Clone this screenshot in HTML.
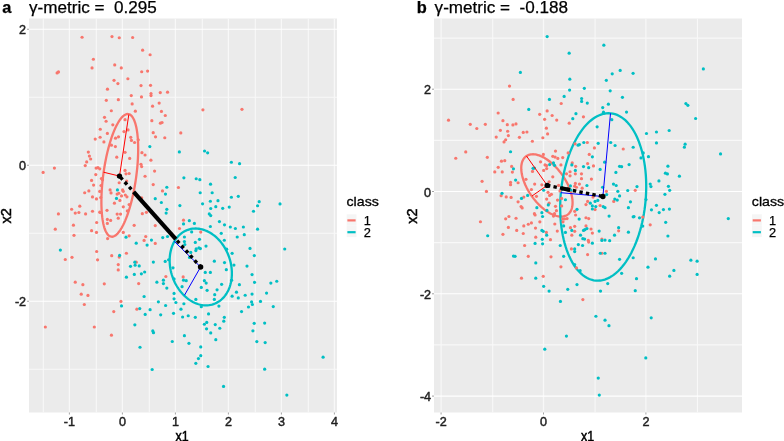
<!DOCTYPE html>
<html><head><meta charset="utf-8"><style>
html,body{margin:0;padding:0;background:#fff;}
svg{display:block;will-change:transform;}
text{font-family:"Liberation Sans", sans-serif;}
.tk{font-size:12.6px;fill:#1f1f1f;stroke:#1f1f1f;stroke-width:0.45px;}
.tt{font-size:17.1px;fill:#000;stroke:#000;stroke-width:0.25px;}
.at{font-size:14.5px;fill:#000;stroke:#000;stroke-width:0.5px;}
.lt{font-size:13.4px;fill:#000;stroke:#000;stroke-width:0.3px;}
.ll{font-size:12.8px;fill:#000;stroke:#000;stroke-width:0.25px;}
</style></head><body>
<svg width="784" height="441" viewBox="0 0 784 441">
<rect x="29.0" y="18.5" width="308.00" height="394.00" fill="#EBEBEB"/>
<line x1="43.30" y1="18.5" x2="43.30" y2="412.5" stroke="#F8F8F8" stroke-width="1.1"/>
<line x1="96.30" y1="18.5" x2="96.30" y2="412.5" stroke="#F8F8F8" stroke-width="1.1"/>
<line x1="149.30" y1="18.5" x2="149.30" y2="412.5" stroke="#F8F8F8" stroke-width="1.1"/>
<line x1="202.30" y1="18.5" x2="202.30" y2="412.5" stroke="#F8F8F8" stroke-width="1.1"/>
<line x1="255.30" y1="18.5" x2="255.30" y2="412.5" stroke="#F8F8F8" stroke-width="1.1"/>
<line x1="308.30" y1="18.5" x2="308.30" y2="412.5" stroke="#F8F8F8" stroke-width="1.1"/>
<line x1="29.0" y1="97.25" x2="337.0" y2="97.25" stroke="#F8F8F8" stroke-width="1.2"/>
<line x1="29.0" y1="233.25" x2="337.0" y2="233.25" stroke="#F8F8F8" stroke-width="1.2"/>
<line x1="29.0" y1="369.25" x2="337.0" y2="369.25" stroke="#F8F8F8" stroke-width="1.2"/>
<line x1="69.40" y1="18.5" x2="69.40" y2="412.5" stroke="#F8F8F8" stroke-width="1.2"/>
<line x1="122.40" y1="18.5" x2="122.40" y2="412.5" stroke="#F8F8F8" stroke-width="1.2"/>
<line x1="175.40" y1="18.5" x2="175.40" y2="412.5" stroke="#F8F8F8" stroke-width="1.2"/>
<line x1="228.40" y1="18.5" x2="228.40" y2="412.5" stroke="#F8F8F8" stroke-width="1.2"/>
<line x1="281.40" y1="18.5" x2="281.40" y2="412.5" stroke="#F8F8F8" stroke-width="1.2"/>
<line x1="334.40" y1="18.5" x2="334.40" y2="412.5" stroke="#F8F8F8" stroke-width="1.2"/>
<line x1="29.0" y1="29.25" x2="337.0" y2="29.25" stroke="#fff" stroke-width="1.1"/>
<line x1="29.0" y1="165.25" x2="337.0" y2="165.25" stroke="#fff" stroke-width="1.1"/>
<line x1="29.0" y1="301.25" x2="337.0" y2="301.25" stroke="#fff" stroke-width="1.1"/>
<rect x="434.0" y="18.5" width="308.00" height="394.00" fill="#EBEBEB"/>
<line x1="492.70" y1="18.5" x2="492.70" y2="412.5" stroke="#F8F8F8" stroke-width="1.1"/>
<line x1="595.10" y1="18.5" x2="595.10" y2="412.5" stroke="#F8F8F8" stroke-width="1.1"/>
<line x1="697.50" y1="18.5" x2="697.50" y2="412.5" stroke="#F8F8F8" stroke-width="1.1"/>
<line x1="434.0" y1="38.05" x2="742.0" y2="38.05" stroke="#F8F8F8" stroke-width="1.2"/>
<line x1="434.0" y1="140.35" x2="742.0" y2="140.35" stroke="#F8F8F8" stroke-width="1.2"/>
<line x1="434.0" y1="242.65" x2="742.0" y2="242.65" stroke="#F8F8F8" stroke-width="1.2"/>
<line x1="434.0" y1="344.95" x2="742.0" y2="344.95" stroke="#F8F8F8" stroke-width="1.2"/>
<line x1="441.10" y1="18.5" x2="441.10" y2="412.5" stroke="#F8F8F8" stroke-width="1.2"/>
<line x1="543.50" y1="18.5" x2="543.50" y2="412.5" stroke="#F8F8F8" stroke-width="1.2"/>
<line x1="645.90" y1="18.5" x2="645.90" y2="412.5" stroke="#F8F8F8" stroke-width="1.2"/>
<line x1="434.0" y1="89.20" x2="742.0" y2="89.20" stroke="#fff" stroke-width="1.1"/>
<line x1="434.0" y1="191.50" x2="742.0" y2="191.50" stroke="#fff" stroke-width="1.1"/>
<line x1="434.0" y1="293.80" x2="742.0" y2="293.80" stroke="#fff" stroke-width="1.1"/>
<line x1="434.0" y1="396.10" x2="742.0" y2="396.10" stroke="#fff" stroke-width="1.1"/>
<line x1="69.40" y1="412.5" x2="69.40" y2="414.50" stroke="#999" stroke-width="0.9"/>
<text x="69.40" y="425.70" text-anchor="middle" class="tk">-1</text>
<line x1="122.40" y1="412.5" x2="122.40" y2="414.50" stroke="#999" stroke-width="0.9"/>
<text x="122.40" y="425.70" text-anchor="middle" class="tk">0</text>
<line x1="175.40" y1="412.5" x2="175.40" y2="414.50" stroke="#999" stroke-width="0.9"/>
<text x="175.40" y="425.70" text-anchor="middle" class="tk">1</text>
<line x1="228.40" y1="412.5" x2="228.40" y2="414.50" stroke="#999" stroke-width="0.9"/>
<text x="228.40" y="425.70" text-anchor="middle" class="tk">2</text>
<line x1="281.40" y1="412.5" x2="281.40" y2="414.50" stroke="#999" stroke-width="0.9"/>
<text x="281.40" y="425.70" text-anchor="middle" class="tk">3</text>
<line x1="334.40" y1="412.5" x2="334.40" y2="414.50" stroke="#999" stroke-width="0.9"/>
<text x="334.40" y="425.70" text-anchor="middle" class="tk">4</text>
<line x1="27.00" y1="29.25" x2="29.0" y2="29.25" stroke="#999" stroke-width="0.9"/>
<text x="26.10" y="34.35" text-anchor="end" class="tk">2</text>
<line x1="27.00" y1="165.25" x2="29.0" y2="165.25" stroke="#999" stroke-width="0.9"/>
<text x="26.10" y="170.35" text-anchor="end" class="tk">0</text>
<line x1="27.00" y1="301.25" x2="29.0" y2="301.25" stroke="#999" stroke-width="0.9"/>
<text x="26.10" y="306.35" text-anchor="end" class="tk">-2</text>
<line x1="441.10" y1="412.5" x2="441.10" y2="414.50" stroke="#999" stroke-width="0.9"/>
<text x="441.10" y="425.70" text-anchor="middle" class="tk">-2</text>
<line x1="543.50" y1="412.5" x2="543.50" y2="414.50" stroke="#999" stroke-width="0.9"/>
<text x="543.50" y="425.70" text-anchor="middle" class="tk">0</text>
<line x1="645.90" y1="412.5" x2="645.90" y2="414.50" stroke="#999" stroke-width="0.9"/>
<text x="645.90" y="425.70" text-anchor="middle" class="tk">2</text>
<line x1="432.00" y1="89.20" x2="434.0" y2="89.20" stroke="#999" stroke-width="0.9"/>
<text x="431.10" y="94.30" text-anchor="end" class="tk">2</text>
<line x1="432.00" y1="191.50" x2="434.0" y2="191.50" stroke="#999" stroke-width="0.9"/>
<text x="431.10" y="196.60" text-anchor="end" class="tk">0</text>
<line x1="432.00" y1="293.80" x2="434.0" y2="293.80" stroke="#999" stroke-width="0.9"/>
<text x="431.10" y="298.90" text-anchor="end" class="tk">-2</text>
<line x1="432.00" y1="396.10" x2="434.0" y2="396.10" stroke="#999" stroke-width="0.9"/>
<text x="431.10" y="401.20" text-anchor="end" class="tk">-4</text>
<path d="M128.31,114.05 L127.45,114.02 L126.56,114.15 L125.66,114.45 L124.73,114.92 L123.80,115.55 L122.86,116.35 L121.90,117.31 L120.94,118.43 L119.98,119.70 L119.02,121.13 L118.06,122.71 L117.10,124.43 L116.15,126.29 L115.21,128.28 L114.29,130.41 L113.38,132.66 L112.48,135.02 L111.61,137.49 L110.76,140.07 L109.93,142.75 L109.13,145.51 L108.36,148.36 L107.63,151.28 L106.92,154.27 L106.25,157.31 L105.62,160.41 L105.02,163.54 L104.47,166.71 L103.96,169.90 L103.49,173.11 L103.07,176.32 L102.69,179.53 L102.36,182.73 L102.07,185.91 L101.84,189.06 L101.65,192.17 L101.52,195.24 L101.43,198.25 L101.40,201.20 L101.41,204.08 L101.48,206.88 L101.60,209.59 L101.76,212.21 L101.98,214.73 L102.24,217.14 L102.55,219.44 L102.91,221.61 L103.32,223.66 L103.77,225.58 L104.26,227.36 L104.80,228.99 L105.38,230.48 L105.99,231.82 L106.65,233.01 L107.34,234.03 L108.07,234.90 L108.83,235.60 L109.61,236.14 L110.43,236.51 L111.27,236.71 L112.13,236.74 L113.02,236.61 L113.92,236.31 L114.85,235.84 L115.78,235.21 L116.72,234.41 L117.68,233.45 L118.64,232.33 L119.60,231.06 L120.56,229.63 L121.52,228.05 L122.48,226.33 L123.43,224.47 L124.37,222.48 L125.29,220.35 L126.20,218.10 L127.10,215.74 L127.97,213.27 L128.82,210.69 L129.65,208.01 L130.45,205.25 L131.22,202.40 L131.95,199.48 L132.66,196.49 L133.33,193.45 L133.96,190.35 L134.56,187.22 L135.11,184.05 L135.62,180.86 L136.09,177.65 L136.51,174.44 L136.89,171.23 L137.22,168.03 L137.51,164.85 L137.74,161.70 L137.93,158.59 L138.06,155.52 L138.15,152.51 L138.18,149.56 L138.17,146.68 L138.10,143.88 L137.98,141.17 L137.82,138.55 L137.60,136.03 L137.34,133.62 L137.03,131.32 L136.67,129.15 L136.26,127.10 L135.81,125.18 L135.32,123.40 L134.78,121.77 L134.20,120.28 L133.59,118.94 L132.93,117.75 L132.24,116.73 L131.51,115.86 L130.75,115.16 L129.97,114.62 L129.15,114.25 L128.31,114.05Z" fill="none" stroke="#F8766D" stroke-width="2.3"/>
<path d="M187.93,229.79 L186.46,230.35 L185.04,231.02 L183.65,231.78 L182.32,232.64 L181.03,233.59 L179.80,234.63 L178.63,235.77 L177.51,236.98 L176.46,238.28 L175.48,239.66 L174.57,241.12 L173.72,242.64 L172.96,244.23 L172.26,245.89 L171.65,247.60 L171.12,249.36 L170.67,251.17 L170.30,253.03 L170.01,254.92 L169.81,256.85 L169.69,258.80 L169.66,260.78 L169.71,262.77 L169.85,264.78 L170.07,266.79 L170.38,268.80 L170.77,270.81 L171.24,272.80 L171.80,274.78 L172.43,276.74 L173.14,278.67 L173.93,280.57 L174.79,282.43 L175.72,284.25 L176.72,286.02 L177.78,287.74 L178.91,289.41 L180.10,291.01 L181.35,292.54 L182.65,294.01 L184.00,295.40 L185.39,296.71 L186.83,297.94 L188.30,299.09 L189.81,300.15 L191.35,301.12 L192.91,301.99 L194.50,302.77 L196.10,303.45 L197.72,304.03 L199.34,304.50 L200.97,304.88 L202.60,305.15 L204.22,305.32 L205.84,305.38 L207.44,305.33 L209.02,305.18 L210.58,304.93 L212.11,304.57 L213.61,304.11 L215.08,303.55 L216.50,302.88 L217.89,302.12 L219.22,301.26 L220.51,300.31 L221.74,299.27 L222.91,298.13 L224.03,296.92 L225.08,295.62 L226.06,294.24 L226.97,292.78 L227.82,291.26 L228.58,289.67 L229.28,288.01 L229.89,286.30 L230.42,284.54 L230.87,282.73 L231.24,280.87 L231.53,278.98 L231.73,277.05 L231.85,275.10 L231.88,273.12 L231.83,271.13 L231.69,269.12 L231.47,267.11 L231.16,265.10 L230.77,263.09 L230.30,261.10 L229.74,259.12 L229.11,257.16 L228.40,255.23 L227.61,253.33 L226.75,251.47 L225.82,249.65 L224.82,247.88 L223.76,246.16 L222.63,244.49 L221.44,242.89 L220.19,241.36 L218.89,239.89 L217.54,238.50 L216.15,237.19 L214.71,235.96 L213.24,234.81 L211.73,233.75 L210.19,232.78 L208.63,231.91 L207.04,231.13 L205.44,230.45 L203.82,229.87 L202.20,229.40 L200.57,229.02 L198.94,228.75 L197.32,228.58 L195.70,228.52 L194.10,228.57 L192.52,228.72 L190.96,228.97 L189.43,229.33 L187.93,229.79Z" fill="none" stroke="#00BFC4" stroke-width="2.3"/>
<path d="M531.76,196.13 L530.70,194.58 L529.68,193.01 L528.71,191.42 L527.79,189.82 L526.92,188.20 L526.10,186.57 L525.34,184.94 L524.65,183.31 L524.01,181.69 L523.43,180.07 L522.92,178.47 L522.48,176.89 L522.10,175.34 L521.79,173.81 L521.55,172.31 L521.38,170.85 L521.28,169.43 L521.25,168.05 L521.29,166.72 L521.40,165.44 L521.58,164.22 L521.83,163.05 L522.15,161.95 L522.53,160.91 L522.98,159.93 L523.50,159.03 L524.08,158.20 L524.73,157.44 L525.44,156.76 L526.20,156.16 L527.02,155.64 L527.90,155.20 L528.82,154.84 L529.80,154.57 L530.83,154.38 L531.90,154.28 L533.00,154.26 L534.15,154.32 L535.34,154.48 L536.55,154.71 L537.79,155.03 L539.06,155.44 L540.35,155.92 L541.66,156.49 L542.98,157.14 L544.31,157.86 L545.65,158.66 L546.99,159.53 L548.34,160.48 L549.68,161.49 L551.01,162.56 L552.33,163.70 L553.63,164.90 L554.92,166.16 L556.18,167.47 L557.42,168.83 L558.63,170.23 L559.81,171.67 L560.96,173.15 L562.06,174.67 L563.12,176.22 L564.14,177.79 L565.11,179.38 L566.03,180.98 L566.90,182.60 L567.72,184.23 L568.48,185.86 L569.17,187.49 L569.81,189.11 L570.39,190.73 L570.90,192.33 L571.34,193.91 L571.72,195.46 L572.03,196.99 L572.27,198.49 L572.44,199.95 L572.54,201.37 L572.57,202.75 L572.53,204.08 L572.42,205.36 L572.24,206.58 L571.99,207.75 L571.67,208.85 L571.29,209.89 L570.84,210.87 L570.32,211.77 L569.74,212.60 L569.09,213.36 L568.38,214.04 L567.62,214.64 L566.80,215.16 L565.92,215.60 L565.00,215.96 L564.02,216.23 L562.99,216.42 L561.92,216.52 L560.82,216.54 L559.67,216.48 L558.48,216.32 L557.27,216.09 L556.03,215.77 L554.76,215.36 L553.47,214.88 L552.16,214.31 L550.84,213.66 L549.51,212.94 L548.17,212.14 L546.83,211.27 L545.48,210.32 L544.14,209.31 L542.81,208.24 L541.49,207.10 L540.19,205.90 L538.90,204.64 L537.64,203.33 L536.40,201.97 L535.19,200.57 L534.01,199.13 L532.86,197.65 L531.76,196.13Z" fill="none" stroke="#F8766D" stroke-width="2.3"/>
<path d="M610.58,113.32 L608.35,113.24 L606.11,113.39 L603.86,113.76 L601.61,114.37 L599.36,115.20 L597.12,116.26 L594.90,117.53 L592.70,119.03 L590.54,120.74 L588.40,122.65 L586.31,124.78 L584.26,127.09 L582.26,129.60 L580.33,132.30 L578.45,135.17 L576.64,138.21 L574.91,141.41 L573.25,144.77 L571.68,148.27 L570.19,151.90 L568.79,155.65 L567.49,159.52 L566.28,163.49 L565.17,167.55 L564.17,171.69 L563.28,175.90 L562.50,180.17 L561.82,184.49 L561.26,188.84 L560.82,193.21 L560.49,197.59 L560.28,201.97 L560.19,206.34 L560.21,210.68 L560.35,214.98 L560.61,219.24 L560.99,223.43 L561.48,227.55 L562.09,231.58 L562.81,235.53 L563.64,239.36 L564.58,243.08 L565.62,246.67 L566.77,250.13 L568.01,253.44 L569.36,256.60 L570.79,259.59 L572.32,262.41 L573.93,265.05 L575.62,267.51 L577.38,269.77 L579.22,271.83 L581.12,273.69 L583.09,275.33 L585.10,276.76 L587.17,277.97 L589.28,278.97 L591.43,279.73 L593.61,280.27 L595.82,280.58 L598.05,280.66 L600.29,280.51 L602.54,280.14 L604.79,279.53 L607.04,278.70 L609.28,277.64 L611.50,276.37 L613.70,274.87 L615.86,273.16 L618.00,271.25 L620.09,269.12 L622.14,266.81 L624.14,264.30 L626.07,261.60 L627.95,258.73 L629.76,255.69 L631.49,252.49 L633.15,249.13 L634.72,245.63 L636.21,242.00 L637.61,238.25 L638.91,234.38 L640.12,230.41 L641.23,226.35 L642.23,222.21 L643.12,218.00 L643.90,213.73 L644.58,209.41 L645.14,205.06 L645.58,200.69 L645.91,196.31 L646.12,191.93 L646.21,187.56 L646.19,183.22 L646.05,178.92 L645.79,174.66 L645.41,170.47 L644.92,166.35 L644.31,162.32 L643.59,158.37 L642.76,154.54 L641.82,150.82 L640.78,147.23 L639.63,143.77 L638.39,140.46 L637.04,137.30 L635.61,134.31 L634.08,131.49 L632.47,128.85 L630.78,126.39 L629.02,124.13 L627.18,122.07 L625.28,120.21 L623.31,118.57 L621.30,117.14 L619.23,115.93 L617.12,114.93 L614.97,114.17 L612.79,113.63 L610.58,113.32Z" fill="none" stroke="#00BFC4" stroke-width="2.3"/>
<g fill="#F8766D"><circle cx="82.06" cy="37.27" r="1.6"/><circle cx="111.99" cy="36.59" r="1.6"/><circle cx="119.25" cy="37.73" r="1.6"/><circle cx="93.4" cy="59.27" r="1.6"/><circle cx="114.71" cy="64.94" r="1.6"/><circle cx="121.29" cy="67.89" r="1.6"/><circle cx="92.04" cy="67.89" r="1.6"/><circle cx="57.12" cy="72.88" r="1.6"/><circle cx="58.48" cy="71.97" r="1.6"/><circle cx="127.87" cy="78.77" r="1.6"/><circle cx="114.03" cy="80.36" r="1.6"/><circle cx="117.89" cy="83.53" r="1.6"/><circle cx="107.46" cy="89.2" r="1.6"/><circle cx="106.32" cy="100.31" r="1.6"/><circle cx="118.34" cy="99.63" r="1.6"/><circle cx="111.31" cy="110.74" r="1.6"/><circle cx="104.51" cy="117.32" r="1.6"/><circle cx="132.63" cy="37.5" r="1.6"/><circle cx="142.61" cy="50.2" r="1.6"/><circle cx="150.09" cy="54.73" r="1.6"/><circle cx="141.7" cy="71.74" r="1.6"/><circle cx="147.59" cy="71.06" r="1.6"/><circle cx="141.02" cy="85.57" r="1.6"/><circle cx="150.54" cy="85.35" r="1.6"/><circle cx="131.27" cy="95.55" r="1.6"/><circle cx="141.47" cy="96.91" r="1.6"/><circle cx="151.0" cy="93.51" r="1.6"/><circle cx="151.0" cy="95.55" r="1.6"/><circle cx="160.29" cy="92.6" r="1.6"/><circle cx="167.55" cy="92.15" r="1.6"/><circle cx="132.17" cy="103.94" r="1.6"/><circle cx="159.16" cy="103.03" r="1.6"/><circle cx="152.58" cy="106.21" r="1.6"/><circle cx="135.35" cy="111.2" r="1.6"/><circle cx="161.43" cy="111.42" r="1.6"/><circle cx="165.28" cy="115.51" r="1.6"/><circle cx="202.92" cy="109.84" r="1.6"/><circle cx="241.97" cy="109.29" r="1.6"/><circle cx="106.1" cy="121.27" r="1.6"/><circle cx="100.29" cy="129.25" r="1.6"/><circle cx="107.37" cy="133.42" r="1.6"/><circle cx="100.11" cy="137.23" r="1.6"/><circle cx="95.21" cy="139.04" r="1.6"/><circle cx="103.92" cy="141.95" r="1.6"/><circle cx="88.32" cy="152.1" r="1.6"/><circle cx="89.41" cy="156.1" r="1.6"/><circle cx="90.68" cy="159.0" r="1.6"/><circle cx="86.69" cy="161.9" r="1.6"/><circle cx="85.24" cy="165.53" r="1.6"/><circle cx="54.4" cy="168.07" r="1.6"/><circle cx="43.15" cy="172.42" r="1.6"/><circle cx="96.12" cy="168.07" r="1.6"/><circle cx="97.93" cy="167.71" r="1.6"/><circle cx="99.75" cy="168.79" r="1.6"/><circle cx="95.76" cy="174.6" r="1.6"/><circle cx="102.47" cy="179.68" r="1.6"/><circle cx="91.59" cy="180.4" r="1.6"/><circle cx="93.58" cy="185.12" r="1.6"/><circle cx="84.69" cy="192.74" r="1.6"/><circle cx="88.86" cy="190.93" r="1.6"/><circle cx="92.49" cy="196.91" r="1.6"/><circle cx="99.75" cy="191.47" r="1.6"/><circle cx="125.05" cy="119.63" r="1.6"/><circle cx="151.86" cy="120.72" r="1.6"/><circle cx="160.43" cy="123.17" r="1.6"/><circle cx="162.06" cy="122.49" r="1.6"/><circle cx="112.81" cy="124.8" r="1.6"/><circle cx="123.97" cy="131.61" r="1.6"/><circle cx="128.05" cy="129.97" r="1.6"/><circle cx="153.22" cy="132.69" r="1.6"/><circle cx="155.53" cy="136.78" r="1.6"/><circle cx="164.78" cy="137.73" r="1.6"/><circle cx="115.53" cy="138.14" r="1.6"/><circle cx="118.52" cy="136.78" r="1.6"/><circle cx="130.77" cy="137.32" r="1.6"/><circle cx="131.45" cy="140.45" r="1.6"/><circle cx="134.58" cy="142.49" r="1.6"/><circle cx="138.25" cy="139.77" r="1.6"/><circle cx="111.45" cy="145.21" r="1.6"/><circle cx="115.39" cy="146.57" r="1.6"/><circle cx="125.05" cy="152.29" r="1.6"/><circle cx="141.93" cy="152.69" r="1.6"/><circle cx="145.05" cy="155.01" r="1.6"/><circle cx="116.76" cy="157.18" r="1.6"/><circle cx="129.68" cy="158.41" r="1.6"/><circle cx="150.9" cy="160.18" r="1.6"/><circle cx="140.97" cy="164.26" r="1.6"/><circle cx="141.65" cy="166.57" r="1.6"/><circle cx="125.05" cy="170.38" r="1.6"/><circle cx="126.01" cy="173.78" r="1.6"/><circle cx="129.14" cy="173.51" r="1.6"/><circle cx="154.58" cy="171.06" r="1.6"/><circle cx="145.05" cy="176.23" r="1.6"/><circle cx="180.79" cy="132.88" r="1.6"/><circle cx="178.43" cy="187.48" r="1.6"/><circle cx="119.2" cy="182.76" r="1.6"/><circle cx="126.69" cy="180.99" r="1.6"/><circle cx="110.09" cy="189.97" r="1.6"/><circle cx="111.04" cy="192.97" r="1.6"/><circle cx="122.61" cy="189.97" r="1.6"/><circle cx="123.29" cy="191.33" r="1.6"/><circle cx="117.16" cy="194.05" r="1.6"/><circle cx="118.8" cy="193.24" r="1.6"/><circle cx="121.52" cy="195.96" r="1.6"/><circle cx="125.33" cy="195.01" r="1.6"/><circle cx="126.96" cy="196.78" r="1.6"/><circle cx="119.88" cy="200.45" r="1.6"/><circle cx="114.44" cy="203.17" r="1.6"/><circle cx="123.29" cy="206.84" r="1.6"/><circle cx="129.14" cy="204.53" r="1.6"/><circle cx="127.37" cy="210.93" r="1.6"/><circle cx="117.16" cy="214.05" r="1.6"/><circle cx="120.56" cy="214.05" r="1.6"/><circle cx="118.25" cy="218.14" r="1.6"/><circle cx="110.63" cy="220.45" r="1.6"/><circle cx="134.17" cy="225.35" r="1.6"/><circle cx="123.29" cy="232.42" r="1.6"/><circle cx="129.14" cy="235.82" r="1.6"/><circle cx="141.65" cy="197.73" r="1.6"/><circle cx="142.33" cy="213.65" r="1.6"/><circle cx="146.41" cy="212.29" r="1.6"/><circle cx="153.22" cy="184.53" r="1.6"/><circle cx="162.47" cy="190.93" r="1.6"/><circle cx="155.26" cy="225.62" r="1.6"/><circle cx="145.73" cy="236.5" r="1.6"/><circle cx="96.48" cy="198.91" r="1.6"/><circle cx="79.79" cy="206.16" r="1.6"/><circle cx="71.63" cy="209.25" r="1.6"/><circle cx="58.39" cy="213.96" r="1.6"/><circle cx="75.26" cy="213.06" r="1.6"/><circle cx="78.89" cy="212.51" r="1.6"/><circle cx="85.6" cy="213.96" r="1.6"/><circle cx="92.49" cy="211.24" r="1.6"/><circle cx="99.75" cy="212.15" r="1.6"/><circle cx="107.0" cy="210.34" r="1.6"/><circle cx="107.37" cy="219.41" r="1.6"/><circle cx="107.37" cy="223.4" r="1.6"/><circle cx="96.66" cy="222.49" r="1.6"/><circle cx="55.3" cy="229.2" r="1.6"/><circle cx="73.44" cy="225.21" r="1.6"/><circle cx="91.59" cy="230.65" r="1.6"/><circle cx="96.48" cy="232.47" r="1.6"/><circle cx="73.99" cy="235.37" r="1.6"/><circle cx="96.66" cy="251.51" r="1.6"/><circle cx="71.99" cy="257.32" r="1.6"/><circle cx="65.28" cy="259.5" r="1.6"/><circle cx="97.57" cy="259.86" r="1.6"/><circle cx="75.26" cy="282.17" r="1.6"/><circle cx="82.88" cy="284.71" r="1.6"/><circle cx="104.28" cy="283.8" r="1.6"/><circle cx="81.24" cy="294.15" r="1.6"/><circle cx="87.96" cy="295.41" r="1.6"/><circle cx="84.33" cy="304.49" r="1.6"/><circle cx="45.33" cy="326.98" r="1.6"/><circle cx="94.31" cy="326.98" r="1.6"/><circle cx="144.1" cy="240.45" r="1.6"/><circle cx="155.26" cy="243.44" r="1.6"/><circle cx="126.41" cy="253.24" r="1.6"/><circle cx="111.72" cy="255.69" r="1.6"/><circle cx="119.2" cy="257.05" r="1.6"/><circle cx="136.21" cy="262.22" r="1.6"/><circle cx="118.25" cy="264.53" r="1.6"/><circle cx="118.25" cy="269.97" r="1.6"/><circle cx="138.66" cy="283.58" r="1.6"/><circle cx="165.87" cy="276.5" r="1.6"/><circle cx="120.97" cy="301.4" r="1.6"/><circle cx="113.76" cy="311.61" r="1.6"/><circle cx="136.89" cy="309.16" r="1.6"/><circle cx="111.45" cy="335.14" r="1.6"/><circle cx="183.51" cy="220.13" r="1.6"/><circle cx="179.52" cy="228.48" r="1.6"/><circle cx="200.75" cy="232.1" r="1.6"/><circle cx="183.15" cy="276.91" r="1.6"/><circle cx="107.6" cy="238.6" r="1.6"/><circle cx="101.4" cy="178.5" r="1.6"/><circle cx="101.0" cy="185.5" r="1.6"/><circle cx="100.7" cy="197.5" r="1.6"/><circle cx="100.6" cy="212.5" r="1.6"/></g>
<g fill="#00BFC4"><circle cx="149.82" cy="146.57" r="1.6"/><circle cx="179.34" cy="151.92" r="1.6"/><circle cx="204.56" cy="151.02" r="1.6"/><circle cx="207.64" cy="152.83" r="1.6"/><circle cx="231.4" cy="162.26" r="1.6"/><circle cx="239.57" cy="163.71" r="1.6"/><circle cx="183.88" cy="177.86" r="1.6"/><circle cx="196.21" cy="178.77" r="1.6"/><circle cx="199.84" cy="179.68" r="1.6"/><circle cx="235.21" cy="177.5" r="1.6"/><circle cx="210.54" cy="184.21" r="1.6"/><circle cx="200.2" cy="192.74" r="1.6"/><circle cx="212.17" cy="192.74" r="1.6"/><circle cx="231.4" cy="197.27" r="1.6"/><circle cx="238.3" cy="196.37" r="1.6"/><circle cx="259.2" cy="201.67" r="1.6"/><circle cx="257.57" cy="205.76" r="1.6"/><circle cx="280.02" cy="203.92" r="1.6"/><circle cx="117.44" cy="189.97" r="1.6"/><circle cx="116.48" cy="198.41" r="1.6"/><circle cx="126.01" cy="237.18" r="1.6"/><circle cx="166.82" cy="187.25" r="1.6"/><circle cx="165.46" cy="194.05" r="1.6"/><circle cx="155.26" cy="198.68" r="1.6"/><circle cx="161.38" cy="202.49" r="1.6"/><circle cx="166.82" cy="209.29" r="1.6"/><circle cx="166.14" cy="213.1" r="1.6"/><circle cx="162.74" cy="237.59" r="1.6"/><circle cx="167.5" cy="236.5" r="1.6"/><circle cx="60.38" cy="250.06" r="1.6"/><circle cx="151.45" cy="240.04" r="1.6"/><circle cx="136.21" cy="243.17" r="1.6"/><circle cx="147.1" cy="245.07" r="1.6"/><circle cx="119.61" cy="255.41" r="1.6"/><circle cx="134.85" cy="262.22" r="1.6"/><circle cx="135.12" cy="265.21" r="1.6"/><circle cx="139.2" cy="265.89" r="1.6"/><circle cx="130.5" cy="266.3" r="1.6"/><circle cx="153.35" cy="262.08" r="1.6"/><circle cx="165.19" cy="261.4" r="1.6"/><circle cx="168.59" cy="259.77" r="1.6"/><circle cx="134.31" cy="274.46" r="1.6"/><circle cx="141.38" cy="273.78" r="1.6"/><circle cx="144.65" cy="272.01" r="1.6"/><circle cx="126.41" cy="277.18" r="1.6"/><circle cx="163.42" cy="280.18" r="1.6"/><circle cx="163.42" cy="283.58" r="1.6"/><circle cx="156.89" cy="282.22" r="1.6"/><circle cx="166.82" cy="288.07" r="1.6"/><circle cx="144.1" cy="296.5" r="1.6"/><circle cx="121.52" cy="305.89" r="1.6"/><circle cx="139.75" cy="308.61" r="1.6"/><circle cx="150.09" cy="309.7" r="1.6"/><circle cx="158.39" cy="301.81" r="1.6"/><circle cx="165.6" cy="305.48" r="1.6"/><circle cx="145.19" cy="314.46" r="1.6"/><circle cx="160.7" cy="314.87" r="1.6"/><circle cx="134.85" cy="324.8" r="1.6"/><circle cx="152.81" cy="330.93" r="1.6"/><circle cx="153.49" cy="332.69" r="1.6"/><circle cx="140.02" cy="347.25" r="1.6"/><circle cx="152.16" cy="369.48" r="1.6"/><circle cx="179.88" cy="205.62" r="1.6"/><circle cx="202.56" cy="203.8" r="1.6"/><circle cx="210.36" cy="201.27" r="1.6"/><circle cx="217.98" cy="200.72" r="1.6"/><circle cx="215.8" cy="206.71" r="1.6"/><circle cx="210.72" cy="208.52" r="1.6"/><circle cx="222.7" cy="208.34" r="1.6"/><circle cx="229.23" cy="207.07" r="1.6"/><circle cx="209.27" cy="213.96" r="1.6"/><circle cx="210.72" cy="215.6" r="1.6"/><circle cx="183.51" cy="223.94" r="1.6"/><circle cx="189.32" cy="220.68" r="1.6"/><circle cx="194.4" cy="223.4" r="1.6"/><circle cx="210.36" cy="226.48" r="1.6"/><circle cx="219.43" cy="221.58" r="1.6"/><circle cx="224.51" cy="224.85" r="1.6"/><circle cx="230.32" cy="227.02" r="1.6"/><circle cx="235.39" cy="228.48" r="1.6"/><circle cx="243.38" cy="227.02" r="1.6"/><circle cx="244.28" cy="234.64" r="1.6"/><circle cx="237.21" cy="237.0" r="1.6"/><circle cx="221.24" cy="233.37" r="1.6"/><circle cx="191.68" cy="231.92" r="1.6"/><circle cx="184.42" cy="237.0" r="1.6"/><circle cx="224.33" cy="240.27" r="1.6"/><circle cx="184.42" cy="241.54" r="1.6"/><circle cx="195.3" cy="242.44" r="1.6"/><circle cx="199.48" cy="239.36" r="1.6"/><circle cx="206.01" cy="246.07" r="1.6"/><circle cx="196.21" cy="248.79" r="1.6"/><circle cx="198.93" cy="247.89" r="1.6"/><circle cx="190.77" cy="252.42" r="1.6"/><circle cx="195.85" cy="250.61" r="1.6"/><circle cx="226.69" cy="249.16" r="1.6"/><circle cx="232.13" cy="253.33" r="1.6"/><circle cx="214.35" cy="261.13" r="1.6"/><circle cx="224.51" cy="262.58" r="1.6"/><circle cx="233.94" cy="265.12" r="1.6"/><circle cx="226.32" cy="269.66" r="1.6"/><circle cx="247.0" cy="266.03" r="1.6"/><circle cx="172.99" cy="267.84" r="1.6"/><circle cx="205.28" cy="272.38" r="1.6"/><circle cx="210.36" cy="272.38" r="1.6"/><circle cx="174.08" cy="278.91" r="1.6"/><circle cx="183.51" cy="280.18" r="1.6"/><circle cx="186.23" cy="280.72" r="1.6"/><circle cx="204.37" cy="280.72" r="1.6"/><circle cx="206.19" cy="283.08" r="1.6"/><circle cx="221.61" cy="284.35" r="1.6"/><circle cx="231.59" cy="280.18" r="1.6"/><circle cx="239.39" cy="284.71" r="1.6"/><circle cx="182.06" cy="286.71" r="1.6"/><circle cx="174.08" cy="293.42" r="1.6"/><circle cx="174.08" cy="298.86" r="1.6"/><circle cx="175.89" cy="302.49" r="1.6"/><circle cx="201.29" cy="287.43" r="1.6"/><circle cx="207.1" cy="290.34" r="1.6"/><circle cx="217.07" cy="289.79" r="1.6"/><circle cx="214.71" cy="294.69" r="1.6"/><circle cx="214.35" cy="299.41" r="1.6"/><circle cx="195.85" cy="299.41" r="1.6"/><circle cx="232.13" cy="296.14" r="1.6"/><circle cx="236.48" cy="292.15" r="1.6"/><circle cx="238.3" cy="297.95" r="1.6"/><circle cx="245.19" cy="295.23" r="1.6"/><circle cx="248.46" cy="307.02" r="1.6"/><circle cx="241.56" cy="311.56" r="1.6"/><circle cx="183.88" cy="303.76" r="1.6"/><circle cx="180.97" cy="309.2" r="1.6"/><circle cx="201.29" cy="306.66" r="1.6"/><circle cx="218.89" cy="306.12" r="1.6"/><circle cx="173.54" cy="313.37" r="1.6"/><circle cx="182.61" cy="317.0" r="1.6"/><circle cx="188.23" cy="315.73" r="1.6"/><circle cx="195.3" cy="317.37" r="1.6"/><circle cx="208.55" cy="313.92" r="1.6"/><circle cx="224.33" cy="317.37" r="1.6"/><circle cx="223.78" cy="321.17" r="1.6"/><circle cx="204.37" cy="324.26" r="1.6"/><circle cx="206.73" cy="322.44" r="1.6"/><circle cx="215.26" cy="324.62" r="1.6"/><circle cx="219.79" cy="328.25" r="1.6"/><circle cx="206.55" cy="328.79" r="1.6"/><circle cx="210.72" cy="332.97" r="1.6"/><circle cx="184.42" cy="335.69" r="1.6"/><circle cx="172.27" cy="341.49" r="1.6"/><circle cx="188.95" cy="343.31" r="1.6"/><circle cx="215.8" cy="339.68" r="1.6"/><circle cx="200.75" cy="346.93" r="1.6"/><circle cx="200.75" cy="355.64" r="1.6"/><circle cx="198.45" cy="358.62" r="1.6"/><circle cx="195.83" cy="363.37" r="1.6"/><circle cx="208.06" cy="366.49" r="1.6"/><circle cx="223.54" cy="386.46" r="1.6"/><circle cx="253.49" cy="211.27" r="1.6"/><circle cx="257.57" cy="229.22" r="1.6"/><circle cx="250.02" cy="248.41" r="1.6"/><circle cx="284.71" cy="249.02" r="1.6"/><circle cx="254.31" cy="255.55" r="1.6"/><circle cx="252.06" cy="274.53" r="1.6"/><circle cx="254.51" cy="282.29" r="1.6"/><circle cx="270.84" cy="283.1" r="1.6"/><circle cx="276.76" cy="281.27" r="1.6"/><circle cx="252.06" cy="294.12" r="1.6"/><circle cx="266.55" cy="293.1" r="1.6"/><circle cx="251.61" cy="301.91" r="1.6"/><circle cx="252.39" cy="304.52" r="1.6"/><circle cx="260.48" cy="301.39" r="1.6"/><circle cx="273.26" cy="306.61" r="1.6"/><circle cx="254.22" cy="323.3" r="1.6"/><circle cx="264.65" cy="323.04" r="1.6"/><circle cx="252.91" cy="330.87" r="1.6"/><circle cx="256.83" cy="341.57" r="1.6"/><circle cx="265.17" cy="342.61" r="1.6"/><circle cx="323.09" cy="357.22" r="1.6"/><circle cx="264.65" cy="369.22" r="1.6"/><circle cx="286.83" cy="395.04" r="1.6"/><circle cx="184.8" cy="244.5" r="1.6"/><circle cx="200.4" cy="248.6" r="1.6"/><circle cx="189.5" cy="257.4" r="1.6"/></g>
<g fill="#F8766D"><circle cx="509.51" cy="86.03" r="1.6"/><circle cx="513.14" cy="99.41" r="1.6"/><circle cx="498.17" cy="113.01" r="1.6"/><circle cx="561.21" cy="103.49" r="1.6"/><circle cx="547.15" cy="110.97" r="1.6"/><circle cx="539.67" cy="114.37" r="1.6"/><circle cx="552.14" cy="115.51" r="1.6"/><circle cx="583.43" cy="116.87" r="1.6"/><circle cx="448.51" cy="120.18" r="1.6"/><circle cx="470.28" cy="124.35" r="1.6"/><circle cx="476.81" cy="128.52" r="1.6"/><circle cx="485.34" cy="124.35" r="1.6"/><circle cx="502.93" cy="120.72" r="1.6"/><circle cx="507.29" cy="124.71" r="1.6"/><circle cx="512.91" cy="124.89" r="1.6"/><circle cx="500.39" cy="130.34" r="1.6"/><circle cx="507.65" cy="131.24" r="1.6"/><circle cx="508.38" cy="135.6" r="1.6"/><circle cx="496.22" cy="137.05" r="1.6"/><circle cx="505.66" cy="139.77" r="1.6"/><circle cx="504.02" cy="141.95" r="1.6"/><circle cx="465.75" cy="151.92" r="1.6"/><circle cx="455.77" cy="158.27" r="1.6"/><circle cx="487.33" cy="157.37" r="1.6"/><circle cx="501.48" cy="161.17" r="1.6"/><circle cx="504.75" cy="160.63" r="1.6"/><circle cx="498.22" cy="167.34" r="1.6"/><circle cx="511.64" cy="166.44" r="1.6"/><circle cx="494.77" cy="171.88" r="1.6"/><circle cx="502.21" cy="171.88" r="1.6"/><circle cx="512.37" cy="172.06" r="1.6"/><circle cx="510.55" cy="182.4" r="1.6"/><circle cx="510.55" cy="184.76" r="1.6"/><circle cx="482.07" cy="181.31" r="1.6"/><circle cx="486.43" cy="191.47" r="1.6"/><circle cx="501.12" cy="195.64" r="1.6"/><circle cx="506.2" cy="196.91" r="1.6"/><circle cx="511.1" cy="197.46" r="1.6"/><circle cx="544.61" cy="119.36" r="1.6"/><circle cx="556.72" cy="120.04" r="1.6"/><circle cx="569.24" cy="123.17" r="1.6"/><circle cx="546.38" cy="128.2" r="1.6"/><circle cx="523.25" cy="132.42" r="1.6"/><circle cx="526.93" cy="132.01" r="1.6"/><circle cx="547.61" cy="133.92" r="1.6"/><circle cx="519.44" cy="137.32" r="1.6"/><circle cx="542.84" cy="137.73" r="1.6"/><circle cx="532.37" cy="141.27" r="1.6"/><circle cx="555.5" cy="151.06" r="1.6"/><circle cx="543.39" cy="154.46" r="1.6"/><circle cx="568.15" cy="152.97" r="1.6"/><circle cx="552.78" cy="156.37" r="1.6"/><circle cx="555.09" cy="157.05" r="1.6"/><circle cx="557.81" cy="158.41" r="1.6"/><circle cx="562.71" cy="157.59" r="1.6"/><circle cx="540.53" cy="161.81" r="1.6"/><circle cx="545.02" cy="164.94" r="1.6"/><circle cx="546.65" cy="165.62" r="1.6"/><circle cx="560.94" cy="164.94" r="1.6"/><circle cx="572.23" cy="162.9" r="1.6"/><circle cx="532.5" cy="171.47" r="1.6"/><circle cx="543.66" cy="170.38" r="1.6"/><circle cx="546.65" cy="168.61" r="1.6"/><circle cx="566.52" cy="173.78" r="1.6"/><circle cx="570.05" cy="171.74" r="1.6"/><circle cx="570.05" cy="175.82" r="1.6"/><circle cx="552.78" cy="176.78" r="1.6"/><circle cx="575.09" cy="143.85" r="1.6"/><circle cx="587.33" cy="142.49" r="1.6"/><circle cx="594.41" cy="147.93" r="1.6"/><circle cx="623.25" cy="149.02" r="1.6"/><circle cx="589.24" cy="154.46" r="1.6"/><circle cx="575.63" cy="166.3" r="1.6"/><circle cx="587.61" cy="163.58" r="1.6"/><circle cx="593.46" cy="165.89" r="1.6"/><circle cx="575.36" cy="173.78" r="1.6"/><circle cx="581.48" cy="173.78" r="1.6"/><circle cx="635.25" cy="190.36" r="1.6"/><circle cx="642.73" cy="217.05" r="1.6"/><circle cx="650.21" cy="224.78" r="1.6"/><circle cx="518.08" cy="182.76" r="1.6"/><circle cx="525.97" cy="179.36" r="1.6"/><circle cx="534.68" cy="184.12" r="1.6"/><circle cx="541.89" cy="184.8" r="1.6"/><circle cx="549.1" cy="181.81" r="1.6"/><circle cx="531.41" cy="189.56" r="1.6"/><circle cx="523.8" cy="197.05" r="1.6"/><circle cx="536.45" cy="196.37" r="1.6"/><circle cx="548.01" cy="192.29" r="1.6"/><circle cx="549.65" cy="195.41" r="1.6"/><circle cx="551.41" cy="194.33" r="1.6"/><circle cx="546.65" cy="199.09" r="1.6"/><circle cx="561.62" cy="198.41" r="1.6"/><circle cx="557.54" cy="200.04" r="1.6"/><circle cx="518.08" cy="201.81" r="1.6"/><circle cx="521.07" cy="206.57" r="1.6"/><circle cx="522.16" cy="207.93" r="1.6"/><circle cx="549.1" cy="203.17" r="1.6"/><circle cx="555.5" cy="206.3" r="1.6"/><circle cx="561.62" cy="205.89" r="1.6"/><circle cx="556.45" cy="210.65" r="1.6"/><circle cx="534.41" cy="213.65" r="1.6"/><circle cx="535.09" cy="215.01" r="1.6"/><circle cx="553.46" cy="216.1" r="1.6"/><circle cx="554.54" cy="213.65" r="1.6"/><circle cx="516.04" cy="218.27" r="1.6"/><circle cx="562.71" cy="218.82" r="1.6"/><circle cx="564.61" cy="218.82" r="1.6"/><circle cx="567.06" cy="218.54" r="1.6"/><circle cx="562.98" cy="221.81" r="1.6"/><circle cx="539.85" cy="221.81" r="1.6"/><circle cx="523.8" cy="225.89" r="1.6"/><circle cx="528.29" cy="224.26" r="1.6"/><circle cx="531.41" cy="222.9" r="1.6"/><circle cx="554.82" cy="223.99" r="1.6"/><circle cx="535.5" cy="228.07" r="1.6"/><circle cx="570.46" cy="227.66" r="1.6"/><circle cx="516.72" cy="230.38" r="1.6"/><circle cx="546.38" cy="232.42" r="1.6"/><circle cx="557.27" cy="231.06" r="1.6"/><circle cx="523.25" cy="233.51" r="1.6"/><circle cx="535.77" cy="237.18" r="1.6"/><circle cx="571.82" cy="235.14" r="1.6"/><circle cx="581.48" cy="178.68" r="1.6"/><circle cx="591.41" cy="179.09" r="1.6"/><circle cx="575.36" cy="183.44" r="1.6"/><circle cx="579.44" cy="184.12" r="1.6"/><circle cx="574.68" cy="186.16" r="1.6"/><circle cx="576.45" cy="187.25" r="1.6"/><circle cx="582.16" cy="188.2" r="1.6"/><circle cx="606.38" cy="191.33" r="1.6"/><circle cx="613.73" cy="201.4" r="1.6"/><circle cx="593.05" cy="197.05" r="1.6"/><circle cx="587.61" cy="201.4" r="1.6"/><circle cx="585.97" cy="204.53" r="1.6"/><circle cx="595.09" cy="209.56" r="1.6"/><circle cx="600.12" cy="205.48" r="1.6"/><circle cx="574.68" cy="211.33" r="1.6"/><circle cx="575.63" cy="215.01" r="1.6"/><circle cx="585.97" cy="217.73" r="1.6"/><circle cx="588.69" cy="218.54" r="1.6"/><circle cx="574.68" cy="226.3" r="1.6"/><circle cx="585.97" cy="225.89" r="1.6"/><circle cx="591.01" cy="229.02" r="1.6"/><circle cx="574.68" cy="231.33" r="1.6"/><circle cx="592.37" cy="233.1" r="1.6"/><circle cx="618.63" cy="230.79" r="1.6"/><circle cx="480.44" cy="221.76" r="1.6"/><circle cx="505.66" cy="218.86" r="1.6"/><circle cx="508.92" cy="216.5" r="1.6"/><circle cx="508.38" cy="227.39" r="1.6"/><circle cx="502.93" cy="234.28" r="1.6"/><circle cx="550.46" cy="239.63" r="1.6"/><circle cx="524.61" cy="245.48" r="1.6"/><circle cx="571.41" cy="248.88" r="1.6"/><circle cx="528.29" cy="256.37" r="1.6"/><circle cx="551.01" cy="256.78" r="1.6"/><circle cx="560.94" cy="266.84" r="1.6"/><circle cx="521.48" cy="278.14" r="1.6"/><circle cx="543.25" cy="276.37" r="1.6"/><circle cx="588.29" cy="240.45" r="1.6"/><circle cx="588.69" cy="242.08" r="1.6"/><circle cx="601.89" cy="239.09" r="1.6"/><circle cx="587.61" cy="254.6" r="1.6"/><circle cx="601.89" cy="253.24" r="1.6"/><circle cx="576.45" cy="267.93" r="1.6"/><circle cx="582.87" cy="299.57" r="1.6"/><circle cx="516.0" cy="123.9" r="1.6"/><circle cx="558.6" cy="185.4" r="1.6"/><circle cx="560.0" cy="190.9" r="1.6"/></g>
<g fill="#00BFC4"><circle cx="520.39" cy="72.42" r="1.6"/><circle cx="528.78" cy="109.38" r="1.6"/><circle cx="547.15" cy="36.59" r="1.6"/><circle cx="603.84" cy="45.21" r="1.6"/><circle cx="569.15" cy="53.15" r="1.6"/><circle cx="569.83" cy="79.22" r="1.6"/><circle cx="612.23" cy="73.78" r="1.6"/><circle cx="620.17" cy="70.38" r="1.6"/><circle cx="633.09" cy="73.33" r="1.6"/><circle cx="606.34" cy="80.36" r="1.6"/><circle cx="569.6" cy="90.11" r="1.6"/><circle cx="584.34" cy="88.29" r="1.6"/><circle cx="610.19" cy="90.79" r="1.6"/><circle cx="549.42" cy="99.41" r="1.6"/><circle cx="564.16" cy="96.46" r="1.6"/><circle cx="581.62" cy="98.5" r="1.6"/><circle cx="581.62" cy="101.45" r="1.6"/><circle cx="587.29" cy="103.03" r="1.6"/><circle cx="622.44" cy="97.37" r="1.6"/><circle cx="608.38" cy="104.17" r="1.6"/><circle cx="602.71" cy="107.57" r="1.6"/><circle cx="575.95" cy="113.69" r="1.6"/><circle cx="626.52" cy="112.1" r="1.6"/><circle cx="703.34" cy="68.88" r="1.6"/><circle cx="685.88" cy="103.56" r="1.6"/><circle cx="687.88" cy="105.3" r="1.6"/><circle cx="695.61" cy="118.52" r="1.6"/><circle cx="510.55" cy="151.74" r="1.6"/><circle cx="513.46" cy="168.79" r="1.6"/><circle cx="502.03" cy="193.28" r="1.6"/><circle cx="572.78" cy="118.68" r="1.6"/><circle cx="549.65" cy="164.53" r="1.6"/><circle cx="553.46" cy="162.9" r="1.6"/><circle cx="554.54" cy="165.35" r="1.6"/><circle cx="571.82" cy="164.94" r="1.6"/><circle cx="533.05" cy="168.34" r="1.6"/><circle cx="534.41" cy="168.07" r="1.6"/><circle cx="611.82" cy="119.63" r="1.6"/><circle cx="597.13" cy="126.84" r="1.6"/><circle cx="578.08" cy="145.21" r="1.6"/><circle cx="579.44" cy="144.53" r="1.6"/><circle cx="583.8" cy="142.49" r="1.6"/><circle cx="598.22" cy="143.31" r="1.6"/><circle cx="610.73" cy="142.49" r="1.6"/><circle cx="615.09" cy="145.48" r="1.6"/><circle cx="633.18" cy="147.25" r="1.6"/><circle cx="592.37" cy="156.78" r="1.6"/><circle cx="583.52" cy="166.57" r="1.6"/><circle cx="588.69" cy="167.66" r="1.6"/><circle cx="604.61" cy="162.22" r="1.6"/><circle cx="600.12" cy="169.43" r="1.6"/><circle cx="575.36" cy="170.38" r="1.6"/><circle cx="619.58" cy="166.3" r="1.6"/><circle cx="621.62" cy="166.71" r="1.6"/><circle cx="629.1" cy="164.53" r="1.6"/><circle cx="615.9" cy="172.42" r="1.6"/><circle cx="646.47" cy="133.49" r="1.6"/><circle cx="656.45" cy="131.99" r="1.6"/><circle cx="669.17" cy="130.49" r="1.6"/><circle cx="656.45" cy="142.97" r="1.6"/><circle cx="685.13" cy="144.21" r="1.6"/><circle cx="684.39" cy="147.21" r="1.6"/><circle cx="720.55" cy="153.94" r="1.6"/><circle cx="643.23" cy="152.94" r="1.6"/><circle cx="640.98" cy="157.93" r="1.6"/><circle cx="648.47" cy="156.68" r="1.6"/><circle cx="667.92" cy="166.16" r="1.6"/><circle cx="665.43" cy="173.15" r="1.6"/><circle cx="667.42" cy="173.9" r="1.6"/><circle cx="679.4" cy="176.14" r="1.6"/><circle cx="658.94" cy="180.88" r="1.6"/><circle cx="650.21" cy="184.12" r="1.6"/><circle cx="650.96" cy="186.62" r="1.6"/><circle cx="636.99" cy="186.62" r="1.6"/><circle cx="668.42" cy="186.37" r="1.6"/><circle cx="669.67" cy="190.36" r="1.6"/><circle cx="664.93" cy="194.35" r="1.6"/><circle cx="645.97" cy="199.59" r="1.6"/><circle cx="656.45" cy="205.32" r="1.6"/><circle cx="651.46" cy="209.81" r="1.6"/><circle cx="663.43" cy="209.56" r="1.6"/><circle cx="669.42" cy="209.07" r="1.6"/><circle cx="659.19" cy="212.56" r="1.6"/><circle cx="634.0" cy="216.55" r="1.6"/><circle cx="639.49" cy="217.8" r="1.6"/><circle cx="665.68" cy="222.29" r="1.6"/><circle cx="728.29" cy="218.54" r="1.6"/><circle cx="642.73" cy="226.03" r="1.6"/><circle cx="667.92" cy="236.0" r="1.6"/><circle cx="515.63" cy="180.04" r="1.6"/><circle cx="527.61" cy="195.41" r="1.6"/><circle cx="521.48" cy="198.41" r="1.6"/><circle cx="543.66" cy="190.24" r="1.6"/><circle cx="565.43" cy="199.77" r="1.6"/><circle cx="536.86" cy="207.66" r="1.6"/><circle cx="548.29" cy="204.94" r="1.6"/><circle cx="546.93" cy="210.38" r="1.6"/><circle cx="541.89" cy="212.69" r="1.6"/><circle cx="542.57" cy="216.5" r="1.6"/><circle cx="563.66" cy="225.89" r="1.6"/><circle cx="571.82" cy="230.38" r="1.6"/><circle cx="541.89" cy="230.38" r="1.6"/><circle cx="543.25" cy="231.33" r="1.6"/><circle cx="546.65" cy="235.14" r="1.6"/><circle cx="565.43" cy="232.42" r="1.6"/><circle cx="586.93" cy="185.48" r="1.6"/><circle cx="602.57" cy="187.25" r="1.6"/><circle cx="606.65" cy="194.6" r="1.6"/><circle cx="613.46" cy="184.12" r="1.6"/><circle cx="616.18" cy="185.48" r="1.6"/><circle cx="617.81" cy="191.33" r="1.6"/><circle cx="627.74" cy="190.52" r="1.6"/><circle cx="619.58" cy="195.96" r="1.6"/><circle cx="614.82" cy="199.09" r="1.6"/><circle cx="617.27" cy="200.04" r="1.6"/><circle cx="630.46" cy="201.81" r="1.6"/><circle cx="590.33" cy="203.17" r="1.6"/><circle cx="595.09" cy="201.4" r="1.6"/><circle cx="597.81" cy="200.45" r="1.6"/><circle cx="592.37" cy="205.89" r="1.6"/><circle cx="592.37" cy="209.02" r="1.6"/><circle cx="595.77" cy="206.57" r="1.6"/><circle cx="603.25" cy="206.57" r="1.6"/><circle cx="605.02" cy="207.66" r="1.6"/><circle cx="576.99" cy="209.29" r="1.6"/><circle cx="628.42" cy="207.66" r="1.6"/><circle cx="609.1" cy="216.1" r="1.6"/><circle cx="633.18" cy="216.78" r="1.6"/><circle cx="579.17" cy="219.09" r="1.6"/><circle cx="586.93" cy="228.61" r="1.6"/><circle cx="583.52" cy="230.38" r="1.6"/><circle cx="584.88" cy="229.7" r="1.6"/><circle cx="599.17" cy="231.06" r="1.6"/><circle cx="618.63" cy="227.66" r="1.6"/><circle cx="628.42" cy="232.15" r="1.6"/><circle cx="580.53" cy="235.14" r="1.6"/><circle cx="614.54" cy="235.14" r="1.6"/><circle cx="487.7" cy="235.73" r="1.6"/><circle cx="513.46" cy="256.05" r="1.6"/><circle cx="542.3" cy="239.36" r="1.6"/><circle cx="535.09" cy="243.44" r="1.6"/><circle cx="542.57" cy="243.85" r="1.6"/><circle cx="560.26" cy="245.48" r="1.6"/><circle cx="515.09" cy="256.37" r="1.6"/><circle cx="563.66" cy="256.37" r="1.6"/><circle cx="535.77" cy="262.9" r="1.6"/><circle cx="535.77" cy="278.14" r="1.6"/><circle cx="543.66" cy="286.3" r="1.6"/><circle cx="549.1" cy="291.06" r="1.6"/><circle cx="567.74" cy="289.29" r="1.6"/><circle cx="582.84" cy="238.68" r="1.6"/><circle cx="584.61" cy="239.09" r="1.6"/><circle cx="592.37" cy="243.17" r="1.6"/><circle cx="578.35" cy="244.53" r="1.6"/><circle cx="582.57" cy="245.48" r="1.6"/><circle cx="601.89" cy="240.45" r="1.6"/><circle cx="605.02" cy="240.04" r="1.6"/><circle cx="609.65" cy="240.72" r="1.6"/><circle cx="574.68" cy="248.88" r="1.6"/><circle cx="574.68" cy="251.61" r="1.6"/><circle cx="600.26" cy="253.24" r="1.6"/><circle cx="605.02" cy="253.24" r="1.6"/><circle cx="619.58" cy="259.36" r="1.6"/><circle cx="633.18" cy="257.73" r="1.6"/><circle cx="574.68" cy="264.53" r="1.6"/><circle cx="580.12" cy="270.65" r="1.6"/><circle cx="621.62" cy="273.37" r="1.6"/><circle cx="576.99" cy="284.53" r="1.6"/><circle cx="607.74" cy="283.58" r="1.6"/><circle cx="600.53" cy="291.06" r="1.6"/><circle cx="655.45" cy="258.95" r="1.6"/><circle cx="647.97" cy="267.18" r="1.6"/><circle cx="690.87" cy="260.2" r="1.6"/><circle cx="697.11" cy="261.2" r="1.6"/><circle cx="673.91" cy="270.43" r="1.6"/><circle cx="669.67" cy="276.16" r="1.6"/><circle cx="697.11" cy="274.42" r="1.6"/><circle cx="636.49" cy="278.66" r="1.6"/><circle cx="635.25" cy="290.63" r="1.6"/><circle cx="651.21" cy="317.82" r="1.6"/><circle cx="560.43" cy="301.39" r="1.6"/><circle cx="595.91" cy="316.26" r="1.6"/><circle cx="605.04" cy="320.17" r="1.6"/><circle cx="608.96" cy="325.65" r="1.6"/><circle cx="566.43" cy="336.09" r="1.6"/><circle cx="544.78" cy="349.13" r="1.6"/><circle cx="598.26" cy="378.09" r="1.6"/><circle cx="599.3" cy="395.04" r="1.6"/><circle cx="645.8" cy="357.88" r="1.6"/><circle cx="603.5" cy="112.2" r="1.6"/><circle cx="570.4" cy="185.9" r="1.6"/><circle cx="570.9" cy="190.0" r="1.6"/></g>
<line x1="119.50" y1="176.10" x2="128.80" y2="114.60" stroke="#FF0000" stroke-width="1.0" stroke-linecap="butt"/>
<line x1="119.50" y1="176.10" x2="103.50" y2="172.20" stroke="#FF0000" stroke-width="1.0" stroke-linecap="butt"/>
<line x1="200.60" y1="267.00" x2="174.30" y2="241.40" stroke="#0000FF" stroke-width="1.0" stroke-linecap="butt"/>
<line x1="200.60" y1="267.00" x2="184.50" y2="295.20" stroke="#0000FF" stroke-width="1.0" stroke-linecap="butt"/>
<line x1="119.50" y1="176.10" x2="133.64" y2="191.95" stroke="#000" stroke-width="3.4" stroke-linecap="butt" stroke-dasharray="3.4 3.2" stroke-dashoffset="-1.3"/>
<line x1="200.60" y1="267.00" x2="175.80" y2="239.20" stroke="#000" stroke-width="3.4" stroke-linecap="butt" stroke-dasharray="3.4 3.2" stroke-dashoffset="1.0"/>
<line x1="133.64" y1="191.95" x2="175.80" y2="239.20" stroke="#000" stroke-width="4.2" stroke-linecap="butt"/>
<circle cx="119.5" cy="176.1" r="2.7" fill="#000"/>
<circle cx="200.6" cy="267.0" r="2.7" fill="#000"/>
<line x1="547.20" y1="185.40" x2="526.50" y2="156.00" stroke="#FF0000" stroke-width="1.0" stroke-linecap="butt"/>
<line x1="547.20" y1="185.40" x2="532.00" y2="196.00" stroke="#FF0000" stroke-width="1.0" stroke-linecap="butt"/>
<line x1="602.90" y1="196.50" x2="610.50" y2="113.40" stroke="#0000FF" stroke-width="1.0" stroke-linecap="butt"/>
<line x1="602.90" y1="196.50" x2="560.90" y2="192.70" stroke="#0000FF" stroke-width="1.0" stroke-linecap="butt"/>
<line x1="547.20" y1="185.40" x2="570.12" y2="189.97" stroke="#000" stroke-width="3.4" stroke-linecap="butt" stroke-dasharray="3.4 3.2" stroke-dashoffset="0.2"/>
<line x1="602.90" y1="196.50" x2="561.34" y2="188.22" stroke="#000" stroke-width="3.4" stroke-linecap="butt" stroke-dasharray="3.4 3.2" stroke-dashoffset="-0.8"/>
<line x1="570.12" y1="189.97" x2="561.34" y2="188.22" stroke="#000" stroke-width="4.2" stroke-linecap="butt"/>
<circle cx="547.2" cy="185.4" r="2.7" fill="#000"/>
<circle cx="602.9" cy="196.5" r="2.7" fill="#000"/>
<text transform="translate(2.2,13.1) scale(1.0,1)" class="tt" font-weight="bold" style="font-size:16.4px">a</text>
<text transform="translate(29.0,12.5) scale(1.0,1)" class="tt" >γ-metric =&#160; 0.295</text>
<text transform="translate(416.8,13.1) scale(1.0,1)" class="tt" font-weight="bold" style="font-size:16.4px">b</text>
<text transform="translate(434.6,12.5) scale(1.0,1)" class="tt" >γ-metric =&#160; -0.188</text>
<text transform="translate(182.2,441.0) scale(0.86,1)" text-anchor="middle" class="at">x1</text>
<text transform="translate(587.7,441.0) scale(0.86,1)" text-anchor="middle" class="at">x1</text>
<text transform="translate(11.1,215.8) rotate(-90)" text-anchor="middle" class="at">x2</text>
<text transform="translate(416.6,216) rotate(-90)" text-anchor="middle" class="at">x2</text>
<text transform="translate(346.5,205.8) scale(1.06,1)" class="lt">class</text>
<rect x="346.7" y="214.3" width="9.8" height="11.4" fill="#F5F5F5"/>
<rect x="346.7" y="225.7" width="9.8" height="11.4" fill="#F5F5F5"/>
<line x1="347.4" y1="220.4" x2="355.59999999999997" y2="220.4" stroke="#F8766D" stroke-width="2.2"/>
<line x1="347.4" y1="232.2" x2="355.59999999999997" y2="232.2" stroke="#00BFC4" stroke-width="2.2"/>
<text x="363.7" y="225.2" class="ll">1</text>
<text x="363.7" y="237.0" class="ll">2</text>
<text transform="translate(751.8,205.8) scale(1.06,1)" class="lt">class</text>
<rect x="752.0" y="214.3" width="9.8" height="11.4" fill="#F5F5F5"/>
<rect x="752.0" y="225.7" width="9.8" height="11.4" fill="#F5F5F5"/>
<line x1="752.7" y1="220.4" x2="760.9" y2="220.4" stroke="#F8766D" stroke-width="2.2"/>
<line x1="752.7" y1="232.2" x2="760.9" y2="232.2" stroke="#00BFC4" stroke-width="2.2"/>
<text x="769.0" y="225.2" class="ll">1</text>
<text x="769.0" y="237.0" class="ll">2</text>
</svg>
</body></html>
